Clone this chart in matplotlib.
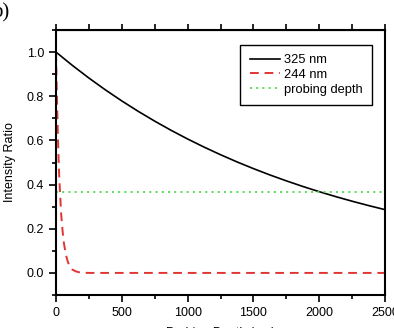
import matplotlib
matplotlib.use("Agg")
import matplotlib.pyplot as plt
from matplotlib.ticker import MultipleLocator

depth_325 = [0, 125, 250, 375, 500, 625, 750, 875, 1000, 1125, 1250, 1375,
             1500, 1625, 1750, 1875, 2000, 2125, 2250, 2375, 2500]
ratio_325 = [1.0, 0.9394, 0.8825, 0.8290, 0.7788, 0.7316, 0.6873, 0.6456, 0.6065, 0.5698, 0.5353, 0.5028,
             0.4724, 0.4437, 0.4169, 0.3916, 0.3679, 0.3456, 0.3247, 0.3050, 0.2865]

depth_244 = [0, 5, 10, 15, 20, 25, 30, 40, 50, 60, 75, 90, 100, 125, 150, 175, 200, 250, 500, 1000, 1500, 2000, 2500]
ratio_244 = [1.0, 0.85, 0.72, 0.61, 0.51, 0.43, 0.37, 0.26, 0.19, 0.135, 0.082, 0.05, 0.036, 0.015, 0.007, 0.003, 0.001, 0.0, 0.0, 0.0, 0.0, 0.0, 0.0]

probe_depth = [0, 2500]
probe_level = [0.368, 0.368]

xticks = [0, 500, 1000, 1500, 2000, 2500]
yticks = [0.0, 0.2, 0.4, 0.6, 0.8, 1.0]

plt.rcParams['font.family'] = ['Liberation Sans', 'DejaVu Sans']
plt.rcParams['font.size'] = 9

fig = plt.figure(figsize=(3.94, 3.28), dpi=100)
ax = fig.add_axes([56/394, 33/328, (385-56)/394, (295-30)/328])

ax.plot(depth_325, ratio_325, color='black', lw=1.2, label='325 nm')
ax.plot(depth_244, ratio_244, color='#e03535', lw=1.4, ls=(0, (4.5, 3)), label='244 nm')
ax.plot(probe_depth, probe_level, color='#55dd55', lw=1.4, ls=(0, (1, 2.2)), label='probing depth')

ax.set_xlim(0, 2500)
ax.set_ylim(-0.1, 1.1)
ax.set_xticks(xticks)
ax.set_yticks(yticks)
ax.set_yticklabels([f"{v:.1f}" for v in yticks])
ax.xaxis.set_minor_locator(MultipleLocator(250))
ax.yaxis.set_minor_locator(MultipleLocator(0.1))
ax.tick_params(which='major', direction='out', length=5, width=1.2, top=False, right=False)
ax.tick_params(which='minor', direction='out', length=3, width=1.2, top=False, right=False)

# top axis ticks (outward, at every 250)
axt = ax.secondary_xaxis('top')
axt.set_xticks([0, 250, 500, 750, 1000, 1250, 1500, 1750, 2000, 2250, 2500])
axt.tick_params(direction='out', length=4, width=1.2, labeltop=False)
axt.set_xticklabels([])

for s in ax.spines.values():
    s.set_linewidth(1.5)

ax.set_xlabel('Probing Depth (nm)', labelpad=6)
ax.set_ylabel('Intensity Ratio', labelpad=8)

leg = ax.legend(loc='upper right', bbox_to_anchor=(0.96, 0.945), frameon=True, fancybox=False,
                edgecolor='black', framealpha=1, handlelength=2.3, handletextpad=0.3,
                labelspacing=0.2, borderpad=0.75, borderaxespad=0, fontsize=9.3)
leg.get_frame().set_linewidth(1.0)

fig.text(-0.02, 0.99, 'b)', family='Liberation Serif', fontsize=15, ha='left', va='top')

fig.savefig('out.png', dpi=100)
